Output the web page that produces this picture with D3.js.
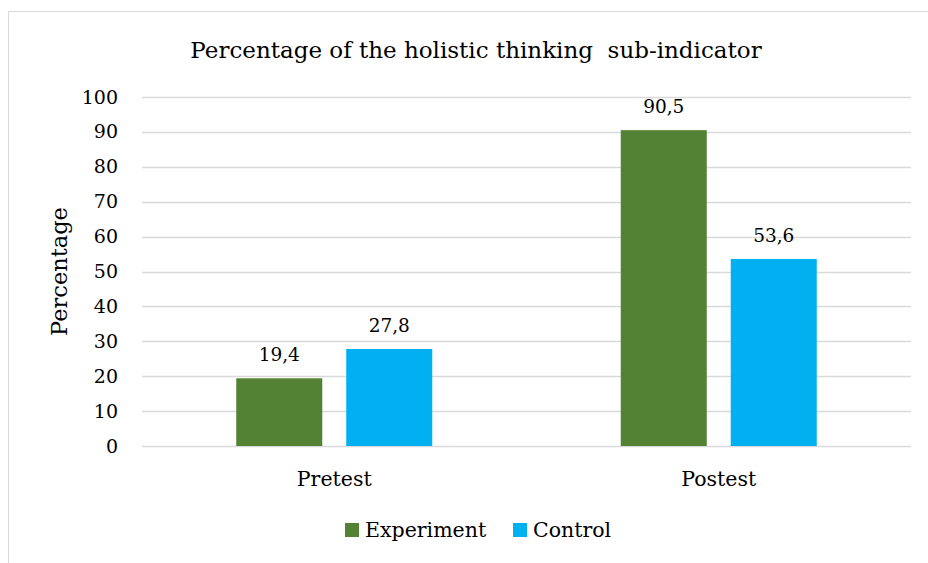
<!DOCTYPE html>
<html>
<head>
<meta charset="utf-8">
<script src="https://cdn.jsdelivr.net/npm/d3@7"></script>
<style>
  body { margin: 0; background: #fff; }
  svg text { font-family: "DejaVu Serif", "Liberation Serif", serif; fill: #000; }
</style>
</head>
<body>
<div id="chart"></div>
<script>
var categories = ['Pretest', 'Postest'];
var seriesNames = ['Experiment', 'Control'];
var experiment = [19.4, 90.5];
var control = [27.8, 53.6];
var yTicks = [0, 10, 20, 30, 40, 50, 60, 70, 80, 90, 100];
var colors = ['#548235', '#00b0f0'];

var width = 928, height = 563;
var margin = {top: 97, right: 17, bottom: 117, left: 142};
var w = width - margin.left - margin.right,
    h = height - margin.top - margin.bottom;
var font = '"DejaVu Serif", serif';

var svg = d3.select('#chart').append('svg')
  .attr('width', width)
  .attr('height', height);

// outer frame
svg.append('rect')
  .attr('x', 8.5).attr('y', 11.5)
  .attr('width', 940).attr('height', 600)
  .attr('fill', 'none')
  .attr('stroke', '#d9d9d9');

svg.append('text')
  .attr('x', 476).attr('y', 58)
  .attr('text-anchor', 'middle')
  .style('font-size', '23px')
  .style('white-space', 'pre')
  .text('Percentage of the holistic thinking  sub-indicator');

var x = d3.scaleBand().domain(categories).range([0, w]);
var x1 = d3.scaleBand().domain(seriesNames).range([0, 196]).paddingInner(0.218);
var y = d3.scaleLinear().domain([0, 100]).range([h, 0]);

var g = svg.append('g')
  .attr('transform', 'translate(' + margin.left + ',' + margin.top + ')');

// gridlines
g.append('g')
  .selectAll('line')
  .data(yTicks)
  .enter().append('line')
  .attr('x1', 0).attr('x2', w)
  .attr('y1', function(d) { return Math.round(y(d)) + 0.5; })
  .attr('y2', function(d) { return Math.round(y(d)) + 0.5; })
  .attr('stroke', '#d9d9d9')
  .attr('stroke-width', 1.5);

var yAxis = g.append('g')
  .call(d3.axisLeft(y).tickValues(yTicks).tickSize(0).tickPadding(24));
yAxis.select('.domain').remove();
yAxis.selectAll('text')
  .style('font-family', font)
  .style('font-size', '19px');

var xAxis = g.append('g')
  .attr('transform', 'translate(0,' + h + ')')
  .call(d3.axisBottom(x).tickSize(0).tickPadding(25));
xAxis.select('.domain').remove();
xAxis.selectAll('text')
  .style('font-family', font)
  .style('font-size', '20.5px');

svg.append('text')
  .attr('transform', 'translate(67,' + (margin.top + h / 2) + ') rotate(-90)')
  .attr('text-anchor', 'middle')
  .style('font-size', '22.5px')
  .text('Percentage');

var values = [experiment, control];
seriesNames.forEach(function(s, si) {
  var grp = g.append('g');
  categories.forEach(function(c, ci) {
    var bx = x(c) + x.bandwidth() / 2 - 98 + x1(s);
    var v = values[si][ci];
    grp.append('rect')
      .attr('x', bx)
      .attr('y', y(v))
      .attr('width', x1.bandwidth())
      .attr('height', h - y(v))
      .attr('fill', colors[si]);
    grp.append('text')
      .attr('x', bx + x1.bandwidth() / 2)
      .attr('y', y(v) - 17)
      .attr('text-anchor', 'middle')
      .style('font-size', '18.5px')
      .text(String(v).replace('.', ','));
  });
});

// legend
var legend = svg.append('g').attr('transform', 'translate(345,530)');
var legendX = [0, 168];
seriesNames.forEach(function(s, i) {
  var item = legend.append('g').attr('transform', 'translate(' + legendX[i] + ',0)');
  item.append('rect')
    .attr('x', 0).attr('y', -7)
    .attr('width', 14).attr('height', 14)
    .attr('fill', colors[i]);
  item.append('text')
    .attr('x', 20).attr('y', 7)
    .style('font-size', '20.5px')
    .text(s);
});
</script>
</body>
</html>
